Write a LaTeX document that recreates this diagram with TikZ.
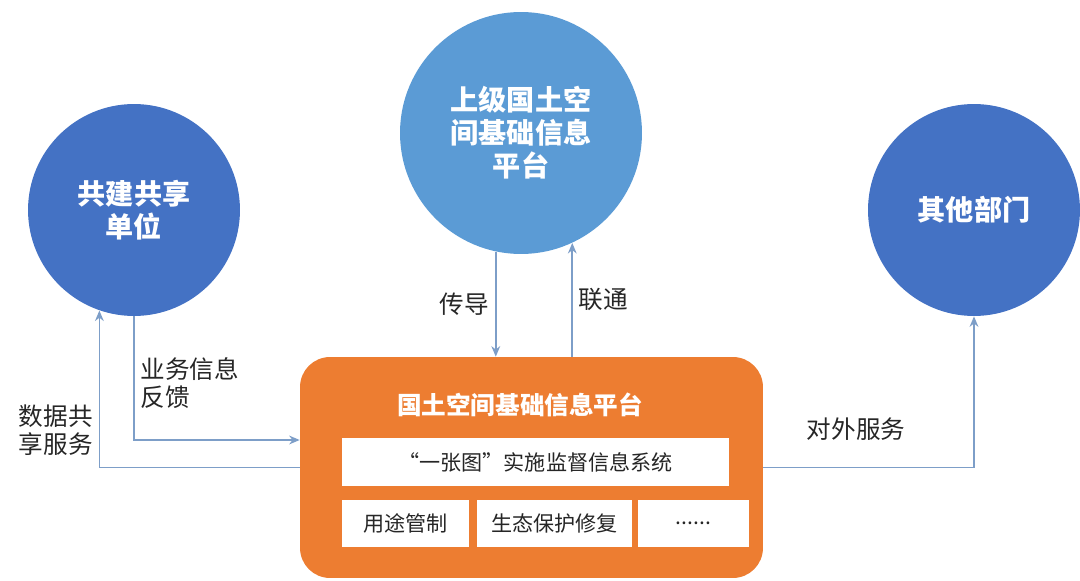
\documentclass[tikz,border=0pt]{standalone}
\usepackage{fontspec}
\setmainfont{Noto Sans CJK SC}
\usetikzlibrary{arrows.meta}
\definecolor{unitblue}{RGB}{68,114,196}
\definecolor{upperblue}{RGB}{91,155,213}
\definecolor{platorange}{RGB}{237,125,49}
\definecolor{linkblue}{RGB}{125,158,200}
\definecolor{labelgray}{RGB}{38,38,38}
\begin{document}
\begin{tikzpicture}[x=0.02cm,y=-0.02cm,
  unit/.style={circle,fill=unitblue,text=white,align=center,inner sep=0pt,
    font=\bfseries\fontsize{16pt}{18.7pt}\selectfont},
  platform/.style={fill=platorange,rounded corners=0.6cm,minimum width=9.26cm,minimum height=4.42cm},
  sysbox/.style={fill=white,minimum height=0.95cm,inner sep=0pt,text=labelgray,
    font=\fontsize{12pt}{14pt}\selectfont},
  link/.style={draw=linkblue,line width=0.9pt,-{Stealth[length=6pt,width=5pt]}},
  lbl/.style={text=labelgray,align=left,font=\fontsize{14pt}{16pt}\selectfont}]
\useasboundingbox (0,0) rectangle (1080,581);
\node[unit,minimum size=4.24cm] (share) at (134,210) {共建共享\\单位};
\node[unit,fill=upperblue,minimum size=4.84cm] (upper) at (521,133) {上级国土空\\间基础信息\\平台};
\node[unit,minimum size=4.24cm] (other) at (974,210) {其他部门};
\node[platform] (plat) at (531.5,467.5) {};
\node[text=white,font=\bfseries\fontsize{14pt}{16pt}\selectfont] (title) at (520,405) {国土空间基础信息平台};
\node[sysbox,minimum width=7.74cm] (sys) at (535.5,462) {“一张图”实施监督信息系统};
\node[sysbox,minimum width=2.54cm] (use) at (405.5,523.5) {用途管制};
\node[sysbox,minimum width=3.1cm] (eco) at (554.5,523.5) {生态保护修复};
\node[sysbox,minimum width=2.22cm] (more) at (693.5,523.5) {......};
\draw[link] (upper.258.6) -- (upper.258.6 |- plat.north) node[midway,left,lbl] {传导};
\draw[link] (upper.295.4 |- plat.north) -- (upper.295.4) node[midway,right,lbl] {联通};
\draw[link] (share.south) |- ([yshift=0.55cm]plat.west) node[pos=.27,right,lbl] {业务信息\\反馈};
\draw[link] (plat.west) -| (share.251) node[pos=.62,left,lbl] {数据共\\享服务};
\draw[link] (plat.east) -| (other.south) node[pos=.22,above=0.4cm,lbl] {对外服务};
\end{tikzpicture}
\end{document}
